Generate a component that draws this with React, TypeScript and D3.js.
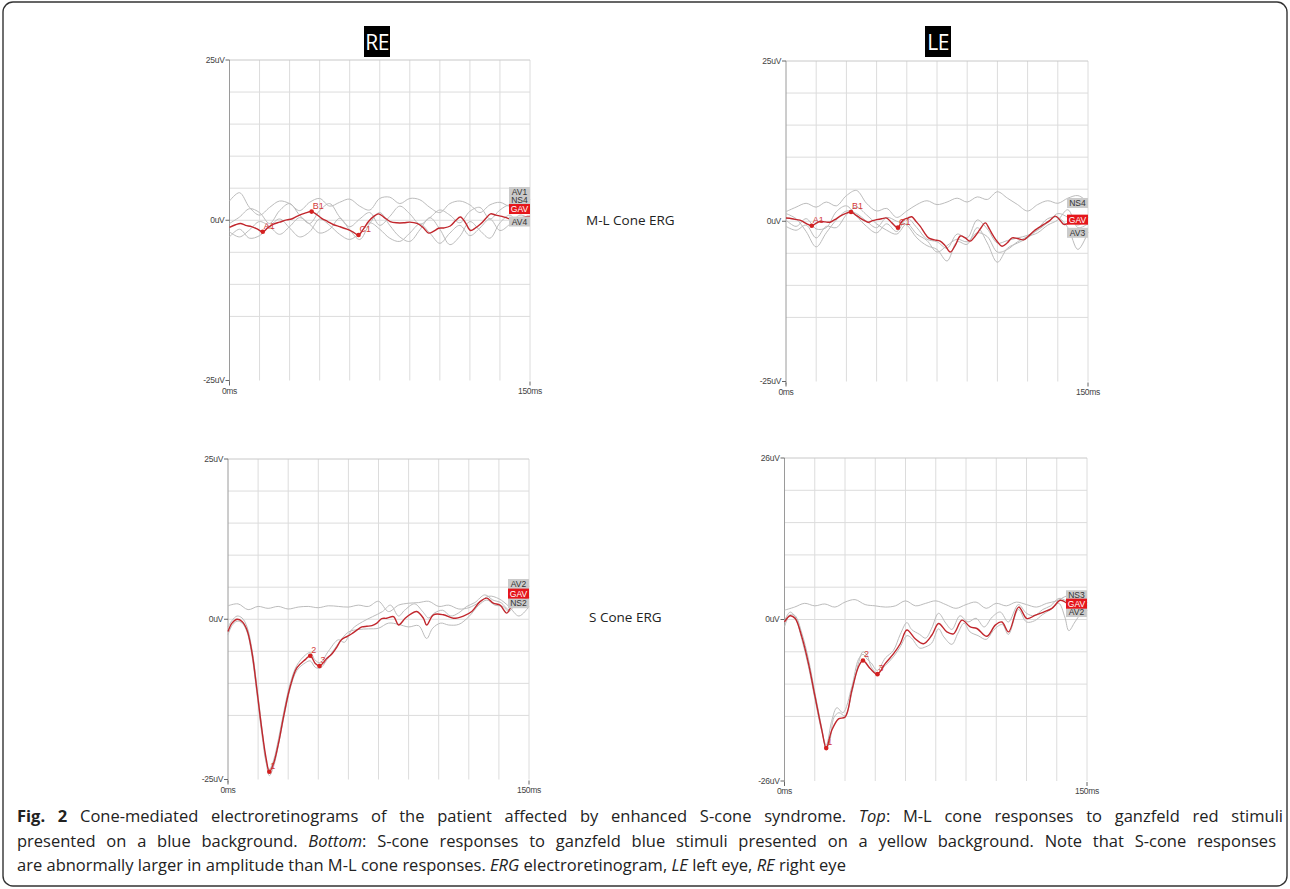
import React, { useRef, useLayoutEffect } from "react";
import * as d3 from "d3";

type Pt = [number, number];

// time grid (ms) used by the noisier grey sweeps of the top panels
const msGrid = [0, 5, 10, 15, 20, 25, 30, 35, 40, 45, 50, 55, 60, 65, 70, 75, 80, 85, 90, 95, 100, 105, 110, 115, 120, 125, 130, 135, 140, 145, 150];

// ---- RE, M-L cone ERG (uV)
const reMlGav: Pt[] = [[0, -1.1], [3, -0.7], [5.5, -0.5], [8, -0.8], [11, -1.0], [14, -1.4], [16.6, -1.8], [19, -1.2], [22, -0.6], [25, -0.3], [28.6, 0.05], [31, 0.2], [33.6, 0.6], [37.7, 1.1], [41, 1.35], [43.5, 0.9], [46, 0.3], [49, -0.2], [52, -0.7], [55, -1.0], [58.6, -1.4], [61.5, -1.8], [64.4, -2.3], [67, -1.3], [69.4, -0.2], [72, 0.6], [74.4, 1.0], [77, 0.5], [80.2, -0.2], [83.5, -0.4], [87, -0.4], [90, -0.3], [93.6, -0.5], [96.5, -1.1], [99.4, -2.0], [102, -1.7], [104.4, -1.25], [107, -1.2], [110.2, -0.9], [113, 0.0], [115.3, 0.5], [117.8, -0.4], [120.3, -1.6], [122.8, -1.2], [125.3, -0.6], [128, 0.3], [130.3, 1.0], [133, 0.8], [136, 0.6], [139, 0.3], [142, 0.05], [145, 0.3], [148.6, 0.6], [150, 0.6]];
const reMlAv1 = [3.0, 4.3, 2.0, 0.8, 2.0, 3.0, 2.6, 1.5, 2.8, 3.4, 2.2, 2.8, 3.3, 2.2, 1.6, 3.4, 3.6, 2.6, 3.4, 3.2, 2.0, 1.2, 2.6, 3.0, 2.4, 1.2, 2.4, 2.8, 2.2, 3.2, 4.3];
const reMlNs4 = [-0.5, 0.5, 1.8, 1.2, -0.5, 1.5, 2.6, 0.8, -0.5, 1.5, 2.6, 0.5, -1.0, 0.2, 1.2, -0.8, 0.6, 2.2, 1.0, -0.6, 0.4, 1.6, 0.8, -0.4, 1.4, 2.0, 0.2, 1.6, 2.4, 1.6, 3.2];
const reMlAv4 = [-1.8, -2.6, -1.5, -0.2, -1.0, -2.2, -1.0, 0.4, -0.6, -2.0, -1.4, 0.3, -1.5, -3.0, -0.5, 1.2, -0.8, -2.6, -3.3, -1.5, 0.4, -1.4, -3.8, -2.5, -0.2, -1.6, -2.8, -0.4, 0.8, -0.8, -0.2];
const reMlAv2 = [-2.6, -1.4, -2.8, -2.4, -1.0, 0.2, -1.2, -2.6, -1.8, 0.2, -0.8, -2.2, -3.0, -2.0, -0.4, -1.4, -2.8, -3.3, -2.0, -0.6, -2.0, -3.6, -2.0, -0.8, -2.4, -1.2, 0.2, -1.6, -0.6, 0.8, 0.2];

// ---- LE, M-L cone ERG (uV)
const leMlGav: Pt[] = [[0, 0.5], [3, 0.4], [5.3, 0.25], [7.5, 0.1], [9.5, -0.25], [11, -0.5], [12.8, -0.7], [15, -0.3], [17, 0], [19.5, -0.1], [21.9, -0.15], [24.5, 0.3], [26.9, 0.8], [29.5, 1.2], [32.3, 1.45], [34.5, 1.0], [36.8, 0.5], [39, 0.1], [41, -0.15], [43, 0.1], [45, 0.25], [47.5, 0.4], [50, 0.5], [52.6, -0.25], [55.6, -1.0], [57, -0.3], [58.4, 0.25], [60.5, 0.5], [62.5, 0.7], [64.5, 0], [66.7, -0.8], [68.8, -1.8], [70.8, -2.6], [73.7, -2.9], [76.6, -3.1], [79, -3.8], [81.6, -4.8], [84, -3.8], [86.6, -2.3], [89, -2.6], [91.5, -3.1], [94, -2.3], [96.5, -1.2], [99, -0.25], [101, -1.2], [103, -2.3], [105, -3.2], [107.3, -3.9], [109.8, -3.4], [112.3, -2.6], [115, -2.7], [118, -2.9], [120.5, -2.3], [123, -1.55], [125.5, -1.0], [128, -0.5], [131, 0.1], [133.8, 0.8], [136, 0.2], [138, -0.5], [140.5, -0.3], [143, 0], [146.5, 0.2], [150, 0.25]];
const leMlNs4 = [1.5, 2.2, 2.8, 2.2, 3.0, 2.4, 4.0, 4.8, 2.8, 1.6, 2.0, 0.6, 1.6, 2.6, 3.2, 2.6, 3.0, 3.6, 3.0, 3.8, 3.4, 4.6, 3.6, 2.6, 1.6, 2.6, 3.2, 2.8, 3.6, 4.0, 3.0];
const leMlAv3 = [1.2, 0.4, -1.6, -4.0, -1.8, 0.2, 1.6, 1.2, 0.0, -1.0, 0.6, 0.0, -0.6, -2.6, -3.8, -4.4, -6.2, -3.2, -3.6, -1.0, -3.4, -6.4, -4.2, -3.4, -2.6, -1.2, 0.4, 0.6, -1.0, -4.4, -1.7];
const leMlAv1 = [0.2, -0.8, 0.4, -1.2, -1.0, 1.5, 2.4, 0.8, -0.8, -1.8, -0.4, -1.6, 0.5, -1.0, -2.8, -3.2, -4.2, -2.0, -2.6, 0.2, -1.2, -3.4, -3.0, -2.6, -2.2, -1.4, -0.2, 1.2, 0.6, -0.6, 0.6];
const leMlAv2 = [-0.8, -1.4, -0.6, -2.6, -0.8, -1.0, 1.0, 2.2, 1.0, -0.4, -1.4, -2.0, -0.4, -2.0, -3.0, -4.8, -3.8, -2.8, -3.2, -1.8, -2.4, -4.8, -4.4, -3.2, -2.4, -1.8, -0.6, 0.2, 1.8, -1.0, -0.4];

// ---- RE, S cone ERG (uV)
const reSGav: Pt[] = [[0, -1.9], [2, -0.6], [4.5, 0], [7, -0.35], [9.5, -1.7], [12, -5.3], [14.4, -11], [16.9, -17.3], [19.1, -21.9], [20.6, -23.8], [22.7, -22.5], [25.2, -19.3], [27.7, -15.2], [31, -10.5], [34.3, -7.6], [38.5, -6.3], [41, -5.7], [43.5, -6.9], [45.6, -7.3], [49.3, -6.1], [51.5, -5.5], [54.3, -4.3], [56.5, -3.2], [59.2, -2.7], [61.5, -2.3], [64.2, -1.7], [66.7, -1.2], [69.2, -1.1], [71.7, -1.0], [74.2, -0.6], [76.6, 0.1], [79.1, 0.15], [82.5, 0.4], [85, -0.9], [88.3, 0.15], [91, 0.8], [94, 1.2], [97.4, 0.15], [99, -0.9], [102.4, 0.7], [107.3, 0.7], [112.3, 0.15], [117.3, 0.5], [121.5, 1.2], [125.6, 2.75], [129, 3.3], [132.2, 2.5], [135.6, 2.2], [138.9, 0.95], [141.4, 2.0], [144.7, 2.2], [147.2, 3.0], [150, 3.5]];
const reSNs2 = [2.1, 2.4, 1.5, 2.0, 1.7, 2.0, 1.6, 1.9, 2.0, 1.8, 2.1, 2.0, 1.9, 2.2, 2.0, 2.8, 1.2, 2.2, 2.5, 2.6, 2.8, 2.0, 2.2, 1.6, 1.8, 2.6, 3.6, 3.2, 2.0, 0.5, 2.0];
const reSAv1: Pt[] = [[0, -1.2], [2, -0.2], [4.5, 0.5], [7, 0.2], [9.5, -1.2], [12, -4.8], [14.4, -10.5], [16.9, -17], [19.1, -22.5], [20.6, -24.4], [22.7, -23], [25.2, -19.5], [27.7, -15.5], [31, -10.8], [34.3, -8.0], [38.5, -6.8], [41, -6.5], [43.5, -7.5], [46, -7.6], [50, -6.0], [55, -3.8], [60, -2.0], [65, -1.6], [70, -1.5], [75, -1.4], [80, -0.6], [85, -0.8], [90, -1.2], [95, -1.0], [99, -3.0], [102, -1.4], [106, -0.6], [110, -0.9], [115, -0.8], [120, 0.4], [125, 2.2], [129, 3.0], [133, 2.2], [137, 2.0], [140, 1.2], [143, 2.2], [147, 2.6], [150, 3.0]];
const reSAv2: Pt[] = [[0, -2.4], [2, -1.0], [4.5, -0.3], [7, -0.6], [9.5, -2.0], [12, -5.8], [14.4, -11.6], [16.9, -18], [19.1, -22.4], [20.6, -23.4], [22.7, -22], [25.2, -18.6], [27.7, -14.6], [31, -10], [34.3, -7.2], [38.5, -5.6], [41, -5.2], [43.5, -6.4], [46, -6.8], [50, -5.0], [55, -3.2], [58, -3.6], [62, -1.5], [67, -0.4], [72, 0.4], [77, 1.2], [81, 2.2], [85, 0.5], [88, 1.4], [93, 2.4], [97, 1.2], [100, 0.2], [103, 1.0], [107, 1.4], [111, 0.5], [115, 1.0], [119, 2.0], [123, 2.6], [128, 3.8], [132, 3.0], [136, 2.6], [140, 1.5], [143, 2.8], [147, 3.2], [150, 5.2]];

// ---- LE, S cone ERG (uV)
const leSGav: Pt[] = [[0, -0.4], [2.8, 0.6], [5.3, 0.15], [8.6, -2.8], [11.9, -7.1], [15.2, -12.5], [18.5, -17.8], [20.7, -20.7], [23.5, -17.8], [26.8, -16.0], [30.1, -15.7], [33.4, -11.4], [36.7, -7.6], [38.9, -6.6], [42.5, -7.9], [46.1, -8.8], [49.9, -7.1], [54.1, -5.5], [57.4, -3.9], [60.7, -1.7], [64.8, -3.1], [69, -3.9], [73.1, -2.5], [76.4, -0.65], [80.5, -2.0], [83.8, -2.3], [88, -0.1], [92.1, -1.2], [95.4, -1.45], [100.4, -2.7], [104.5, -0.9], [107.8, -0.4], [111.1, -2.0], [116.1, 2.0], [120.2, 0.15], [124.4, 0.7], [128.5, 1.2], [132.6, 1.8], [136.8, 3.1], [140.1, 2.6], [143.4, 1.8], [150, 2.85]];
const leSNs3: Pt[] = [[0, 1.5], [5, 2.0], [10, 2.6], [15, 2.2], [20, 2.5], [25, 2.0], [30, 2.8], [35, 3.2], [40, 2.4], [45, 2.2], [50, 2.0], [55, 2.2], [60, 3.0], [65, 2.2], [70, 2.6], [75, 3.0], [80, 2.4], [85, 1.8], [90, 2.4], [95, 2.8], [100, 1.8], [105, 2.6], [110, 2.2], [115, 2.8], [120, 2.4], [125, 2.0], [130, 2.6], [135, 3.0], [140, 3.8], [145, 4.0], [150, 3.6]];
const leSAv1: Pt[] = [[0, -1.2], [2.8, 0.8], [5.3, 0.6], [8.6, -2.2], [11.9, -6.4], [15.2, -12], [18.5, -17.5], [20.7, -20.8], [22.5, -19.5], [24.5, -15.8], [27, -15.0], [30, -15.5], [33.4, -11.8], [36.7, -7.0], [38.9, -5.2], [41, -5.8], [43, -7.6], [46, -8.6], [50, -7.4], [54, -6.0], [57.4, -4.4], [60.7, -2.6], [63, -3.0], [67, -4.6], [70, -4.4], [73, -3.8], [76.4, -1.5], [79, -2.8], [83, -4.0], [86, -2.2], [89, -0.6], [92, -2.0], [96, -2.6], [100, -3.2], [104, -1.6], [108, -0.8], [111, -2.4], [116, 1.6], [120, -0.4], [124, -0.2], [128, 0.8], [132, 1.6], [136, 2.6], [139, 0.4], [141, -1.8], [144, -0.4], [147, 1.0], [150, 2.2]];
const leSAv2: Pt[] = [[0, -0.2], [2.8, 1.2], [5.3, 0.4], [8.6, -3.2], [11.9, -7.6], [15.2, -13], [18.5, -18], [20.7, -20.2], [23.5, -16.2], [26, -14.2], [29, -15], [33.4, -10.8], [36.7, -6.4], [38.9, -5.6], [41, -6.4], [43, -7.0], [46, -8.2], [50, -6.2], [54, -5.0], [57.4, -2.4], [60.7, -0.5], [63, -1.6], [67, -2.4], [70, -3.0], [73, -1.4], [76.4, 1.0], [80, -0.6], [83, -1.6], [87, 0.6], [91, -0.4], [95, 0.2], [99, -1.2], [103, 0.4], [107, 1.2], [111, -0.4], [116, 2.4], [120, 1.0], [124, 0.6], [128, 1.6], [132, 2.2], [136, 3.4], [140, 3.0], [144, 2.6], [147, 2.4], [150, 1.4]];

// peak markers: [label, ms, uV]
const reMlMarks: [string, number, number][] = [["A1", 16.6, -1.8], ["B1", 41, 1.35], ["C1", 64.4, -2.3]];
const leMlMarks: [string, number, number][] = [["A1", 12.8, -0.7], ["B1", 32.3, 1.45], ["C1", 55.6, -1.0]];
const reSMarks: [string, number, number][] = [["1", 20.6, -23.8], ["2", 41, -5.7], ["3", 45.6, -7.3]];
const leSMarks: [string, number, number][] = [["1", 20.7, -20.7], ["2", 38.9, -6.6], ["3", 46.1, -8.8]];

// trace tags at the right edge: [name, uV]
const reMlTags: [string, number][] = [["AV1", 4.4], ["NS4", 3.1], ["GAV", 1.75], ["AV4", -0.2]];
const leMlTags: [string, number][] = [["NS4", 2.85], ["AV3", -1.8], ["GAV", 0.25]];
const reSTags: [string, number][] = [["AV2", 5.5], ["NS2", 2.5], ["GAV", 4.0]];
const leSTags: [string, number][] = [["NS3", 3.9], ["AV2", 1.2], ["GAV", 2.55]];

const zip = (vals: number[]): Pt[] => vals.map((v, i) => [msGrid[i], v]);

type PanelProps = {
  left: number; top: number; right: number; bottom: number; yMax: number;
  gav: Pt[]; greys: Pt[][]; marks: [string, number, number][]; tags: [string, number][];
};

const RED = "#c1272d";
const GREY = "#bcbcbc";
const AXIS_FONT = "'Liberation Sans', Arial, sans-serif";

const Panel = ({ left, top, right, bottom, yMax, gav, greys, marks, tags }: PanelProps) => {
  const x = d3.scaleLinear().domain([0, 150]).range([left, right]);
  const y = d3.scaleLinear().domain([-yMax, yMax]).range([bottom, top]);
  const line = d3.line<Pt>().x((d) => x(d[0])).y((d) => y(d[1])).curve(d3.curveCatmullRom.alpha(0.5));
  const vGrid = d3.range(15, 151, 15);
  const hGrid = d3.range(0, 9).map((i) => yMax - (i * yMax) / 5);
  const yTicks = [yMax, 0, -yMax];
  return (
    <g>
      {vGrid.map((t) => (
        <line key={"v" + t} x1={x(t)} x2={x(t)} y1={top} y2={bottom} stroke="#dcdcdc" strokeWidth={1} />
      ))}
      {hGrid.map((v) => (
        <line key={"h" + v} x1={left} x2={right} y1={y(v)} y2={y(v)} stroke={v === yMax ? "#c8c8c8" : "#dcdcdc"} strokeWidth={1} />
      ))}
      <line x1={left} x2={left} y1={top} y2={bottom + 3} stroke="#9a9a9a" strokeWidth={1} />
      {yTicks.map((v) => (
        <g key={"yt" + v}>
          <line x1={left - 4} x2={left} y1={y(v)} y2={y(v)} stroke="#666" />
          <text x={left - 5} y={y(v)} dy="0.35em" textAnchor="end" fontSize={8.5} fill="#444" fontFamily={AXIS_FONT} letterSpacing={-0.3}>
            {v === 0 ? "0uV" : `${v}uV`}
          </text>
        </g>
      ))}
      {[0, 150].map((t) => (
        <g key={"xt" + t}>
          <line x1={x(t)} x2={x(t)} y1={bottom + 1} y2={bottom + 5} stroke="#666" />
          <text x={x(t)} y={bottom + 13} textAnchor="middle" fontSize={8.5} fill="#444" fontFamily={AXIS_FONT} letterSpacing={-0.3}>
            {t}ms
          </text>
        </g>
      ))}
      {greys.map((g, i) => (
        <path key={"g" + i} d={line(g) || ""} fill="none" stroke={GREY} strokeWidth={1} />
      ))}
      <path d={line(gav) || ""} fill="none" stroke={RED} strokeWidth={1.4} strokeLinejoin="round" />
      {marks.map(([name, t, v]) => (
        <g key={"m" + name}>
          <circle cx={x(t)} cy={y(v)} r={2.3} fill="#d42020" />
          <text x={x(t) + 1} y={y(v) - 3} fontSize={9} fill="#d23a3a" fontFamily={AXIS_FONT}>
            {name}
          </text>
        </g>
      ))}
      {tags.map(([name, v]) => {
        const isGav = name === "GAV";
        return (
          <g key={"tag" + name}>
            <rect x={right - 21} y={y(v) - 5} width={21} height={10} fill={isGav ? "#e5161b" : "#cbcbcb"} />
            <text x={right - 10.5} y={y(v)} dy="0.35em" textAnchor="middle" fontSize={8.5} fill={isGav ? "#fff" : "#333"} fontFamily={AXIS_FONT}>
              {name}
            </text>
          </g>
        );
      })}
    </g>
  );
};

const EyeTitle = ({ cx, label }: { cx: number; label: string }) => (
  <g>
    <rect x={cx - 13} y={26} width={26} height={31} fill="#000" />
    <text x={cx} y={50} textAnchor="middle" fontSize={21} fill="#fff" fontFamily="'Open Sans', sans-serif" letterSpacing={-0.5}>
      {label}
    </text>
  </g>
);

const CAPTION_FONT = "'Open Sans', sans-serif";

// stretches the word gaps of a caption line to a given width (justified text)
const JustifiedLine = ({ x, y, width, children }: { x: number; y: number; width: number; children: React.ReactNode }) => {
  const ref = useRef<SVGTextElement>(null);
  useLayoutEffect(() => {
    const el = ref.current;
    if (!el) return;
    el.setAttribute("word-spacing", "0");
    const natural = el.getComputedTextLength();
    const gaps = (el.textContent || "").split(" ").length - 1;
    if (gaps > 0) el.setAttribute("word-spacing", String((width - natural) / gaps));
  }, [width]);
  return (
    <text ref={ref} x={x} y={y}>
      {children}
    </text>
  );
};

export default function App() {
  return (
    <svg width={1290} height={889} style={{ position: "absolute", left: 0, top: 0, background: "#fff" }}>
      <rect x={3} y={2} width={1284} height={884} rx={10} fill="#fff" stroke="#333" strokeWidth={1.4} />

      <EyeTitle cx={377} label="RE" />
      <EyeTitle cx={938} label="LE" />

      <Panel left={229.5} top={60} right={530} bottom={380.5} yMax={25} gav={reMlGav}
        greys={[reMlAv1, reMlNs4, reMlAv4, reMlAv2].map(zip)} marks={reMlMarks} tags={reMlTags} />
      <Panel left={786} top={61} right={1088} bottom={381.5} yMax={25} gav={leMlGav}
        greys={[leMlNs4, leMlAv3, leMlAv1, leMlAv2].map(zip)} marks={leMlMarks} tags={leMlTags} />
      <Panel left={228} top={459} right={529} bottom={779.5} yMax={25} gav={reSGav}
        greys={[zip(reSNs2), reSAv1, reSAv2]} marks={reSMarks} tags={reSTags} />
      <Panel left={784.5} top={458} right={1087} bottom={781} yMax={26} gav={leSGav}
        greys={[leSNs3, leSAv1, leSAv2]} marks={leSMarks} tags={leSTags} />

      <text x={586} y={225} fontSize={13.5} fill="#222" fontFamily={CAPTION_FONT}>M-L Cone ERG</text>
      <text x={589} y={622} fontSize={13.5} fill="#222" fontFamily={CAPTION_FONT}>S Cone ERG</text>

      <g fontFamily={CAPTION_FONT} fontSize={16.5} fill="#222">
        <JustifiedLine x={17} y={822} width={1266}>
          <tspan fontWeight={700}>Fig. 2</tspan> Cone-mediated electroretinograms of the patient affected by enhanced S-cone syndrome. <tspan fontStyle="italic">Top</tspan>: M-L cone responses to ganzfeld red stimuli
        </JustifiedLine>
        <JustifiedLine x={17} y={847} width={1259}>
          presented on a blue background. <tspan fontStyle="italic">Bottom</tspan>: S-cone responses to ganzfeld blue stimuli presented on a yellow background. Note that S-cone responses
        </JustifiedLine>
        <text x={17} y={871}>
          are abnormally larger in amplitude than M-L cone responses. <tspan fontStyle="italic">ERG</tspan> electroretinogram, <tspan fontStyle="italic">LE</tspan> left eye, <tspan fontStyle="italic">RE</tspan> right eye
        </text>
      </g>
    </svg>
  );
}
